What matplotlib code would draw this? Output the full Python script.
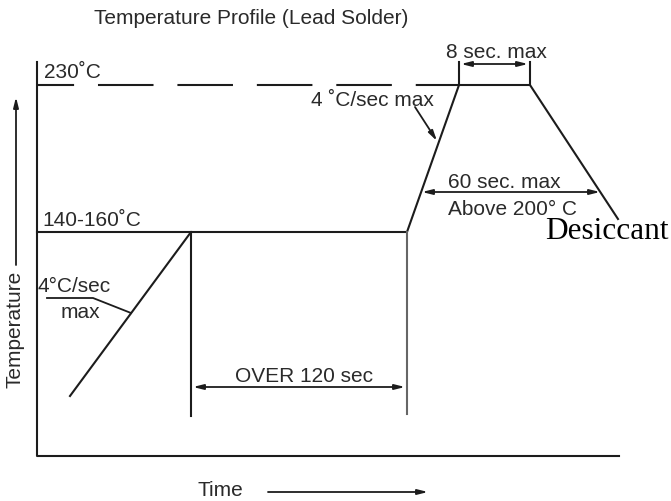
import matplotlib.pyplot as plt

# schematic profile, in picture units (x = time, y = temperature, y grows downward)
profile_x = [70, 191, 407, 459, 530, 618]
profile_y = [397, 233, 233, 86, 86, 220]

axis_left = 37
axis_top = 63
axis_bottom = 457
axis_right = 619

level_230 = 86
level_150 = 233
level_200 = 193

soak_start = 191
soak_end = 407
soak_marker_bottom = [417, 415]
peak_start = 459
peak_end = 530
above200 = [422, 600]
dim_8sec_y = 65
dim_120_y = 388

ink = '#1c1c1c'
txt = '#2a2a2a'
plt.rcParams['font.family'] = ['Liberation Sans', 'DejaVu Sans']
plt.rcParams['lines.scale_dashes'] = False

fig = plt.figure(figsize=(6.71, 5.02), dpi=100)
ax = fig.add_axes([0, 0, 1, 1])
ax.set_xlim(0, 671)
ax.set_ylim(502, 0)
ax.axis('off')

lw = 1.5
# axes of the diagram
ax.plot([axis_left, axis_left, axis_right], [axis_top, axis_bottom, axis_bottom], color=ink, lw=lw)

# 230 dashed level
ax.plot([axis_left, peak_start], [level_230, level_230], color=ink, lw=lw,
        linestyle=(13.3, (40, 17.2)))
# 140-160 level
ax.plot([axis_left, soak_start], [level_150, level_150], color=ink, lw=lw)

# profile
ax.plot(profile_x, profile_y, color=ink, lw=lw)

# soak markers
ax.plot([soak_start, soak_start], [level_150, soak_marker_bottom[0]], color=ink, lw=lw)
ax.plot([soak_end, soak_end], [level_150, soak_marker_bottom[1]], color='#666666', lw=lw)

# peak markers
ax.plot([peak_start, peak_start], [axis_top, level_230], color=ink, lw=lw)
ax.plot([peak_end, peak_end], [axis_top, level_230], color=ink, lw=lw)

arr = dict(arrowstyle='<|-|>,head_length=0.6,head_width=0.15', color=ink, lw=1.3,
           shrinkA=0, shrinkB=0)
ax.annotate('', xy=(peak_start + 2, dim_8sec_y), xytext=(peak_end - 2, dim_8sec_y), arrowprops=arr)
ax.annotate('', xy=(above200[0], level_200), xytext=(above200[1], level_200), arrowprops=arr)
ax.annotate('', xy=(soak_start + 2, dim_120_y), xytext=(soak_end - 2, dim_120_y), arrowprops=arr)

one = dict(arrowstyle='-|>,head_length=0.6,head_width=0.15', color=ink, lw=1.3,
           shrinkA=0, shrinkB=0)
# leader to ramp up
ax.annotate('', xy=(437, 142), xytext=(415, 108), arrowprops=one)
# leader to preheat ramp
ax.plot([47, 93, 131], [299, 299, 314], color=ink, lw=1.3)

# axis arrows
ax.annotate('', xy=(16, 98), xytext=(16, 266), arrowprops=one)
ax.annotate('', xy=(428, 493), xytext=(268, 493), arrowprops=one)

fs = 15
ax.text(251, 18, 'Temperature Profile (Lead Solder)', ha='center', va='center', fontsize=fs, color=txt)
ax.text(44, 72, '230˚C', ha='left', va='center', fontsize=fs, color=txt)
ax.text(42, 221, '140-160˚C', ha='left', va='center', fontsize=fs, color=txt)
ax.text(311, 100, '4 ˚C/sec max', ha='left', va='center', fontsize=fs, color=txt)
ax.text(496, 53, '8 sec. max', ha='center', va='center', fontsize=fs, color=txt)
ax.text(448, 183, '60 sec. max', ha='left', va='center', fontsize=fs, color=txt)
ax.text(448, 210, 'Above 200° C', ha='left', va='center', fontsize=fs, color=txt)
ax.text(38, 287, '4°C/sec', ha='left', va='center', fontsize=fs, color=txt)
ax.text(80, 313, 'max', ha='center', va='center', fontsize=fs, color=txt)
ax.text(304, 377, 'OVER 120 sec', ha='center', va='center', fontsize=fs, color=txt)
ax.text(15, 329, 'Temperature', ha='center', va='center', rotation=90, fontsize=fs, color=txt)
ax.text(220, 491, 'Time', ha='center', va='center', fontsize=fs, color=txt)
ax.text(545, 232, 'Desiccant', ha='left', va='center', fontsize=22.5,
        family=['Liberation Serif', 'DejaVu Serif'], color='black')

fig.savefig('out.png', dpi=100)
